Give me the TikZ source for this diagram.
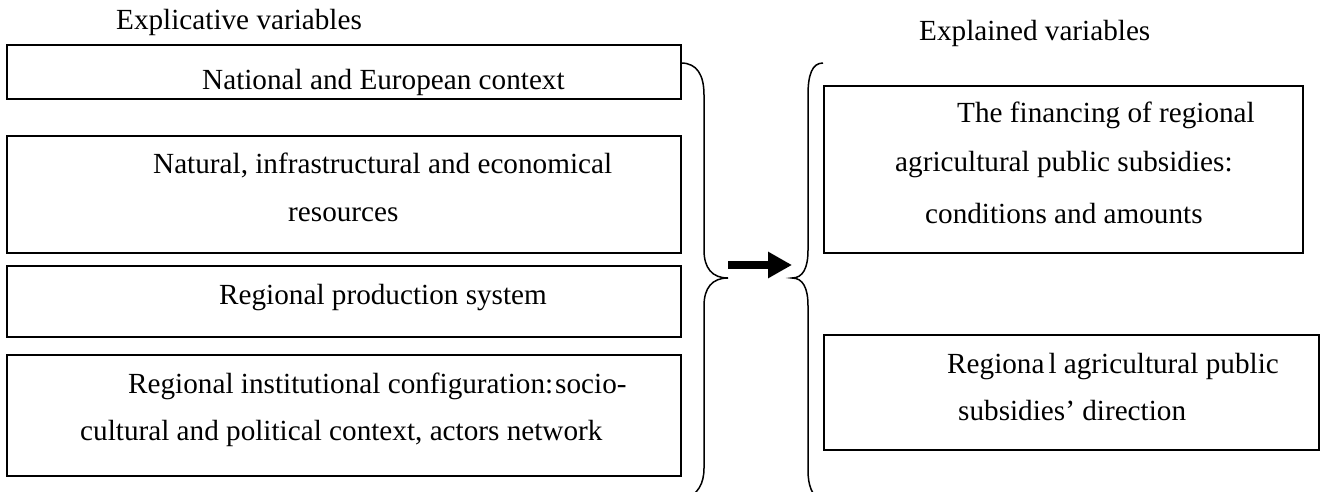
\documentclass[tikz,border=0pt]{standalone}
\usepackage{fontspec}
\setmainfont{Liberation Serif}
\usetikzlibrary{arrows.meta}
\tikzset{
  box/.style={draw=black, line width=1.6pt},
  txt/.style={anchor=base west, inner sep=0pt, font=\fontsize{29.2}{48}\selectfont},
  brace/.style={draw=black, line width=1.5pt},
  bigarrow/.style={line width=8pt, -{Triangle[length=24pt,width=25pt]}}
}
\begin{document}
\begin{tikzpicture}[x=1pt,y=-1pt]
\useasboundingbox (0,0) rectangle (1327,492);
% left boxes
\draw[box] (7,45) rectangle (681,99) node[coordinate] (b1) {};
\draw[box] (7,136) rectangle (681,253) node[coordinate] (b2) {};
\draw[box] (7,266) rectangle (681,337) node[coordinate] (b3) {};
\draw[box] (7,355) rectangle (681,476) node[coordinate] (b4) {};
% right boxes
\draw[box] (824,86) rectangle (1303,253) node[coordinate] (ba) {};
\draw[box] (824,335) rectangle (1319,450) node[coordinate] (bb) {};
% titles
\node[txt] (t1) at (116,30) {Explicative variables};
\node[txt] (t2) at (919,41) {Explained variables};
% left texts
\node[txt] (l1) at (202,90) {National and European context};
\node[txt] (l2a) at (153,173) {Natural, infrastructural and economical};
\node[txt] (l2b) at (288,221) {resources};
\node[txt] (l3) at (219,304) {Regional production system};
\node[txt] (l4a) at (128,393) {Regional institutional configuration:\kern2pt socio-};
\node[txt] (l4b) at (80,440) {cultural and political context, actors network};
% right texts
\node[txt] (ra1) at (957,122) {The financing of regional};
\node[txt] (ra2) at (895,171) {agricultural public subsidies:};
\node[txt] (ra3) at (925,223) {conditions and amounts};
\node[txt] (rb1) at (947,373) {Regiona\kern4pt l agricultural public};
\node[txt] (rb2) at (958,420) {subsidies’ direction};
% braces
\draw[brace] (681,63) .. controls (697,63) and (704,75) .. (704,95)
  -- (704,250) .. controls (704,268) and (712,278) .. (728,278)
  .. controls (712,278) and (704,288) .. (704,306)
  -- (704,468) .. controls (704,484) and (698,494) .. (684,500);
\draw[brace] (823,63) .. controls (812,63) and (808,75) .. (808,95)
  -- (808,250) .. controls (808,268) and (803,278) .. (792,278)
  .. controls (803,278) and (808,288) .. (808,306)
  -- (808,470) .. controls (808,486) and (812,495) .. (820,500);
% arrow
\coordinate (as) at (728,265);
\coordinate (ae) at (792,265);
\draw[bigarrow] (as) -- (ae);
\end{tikzpicture}
\end{document}
